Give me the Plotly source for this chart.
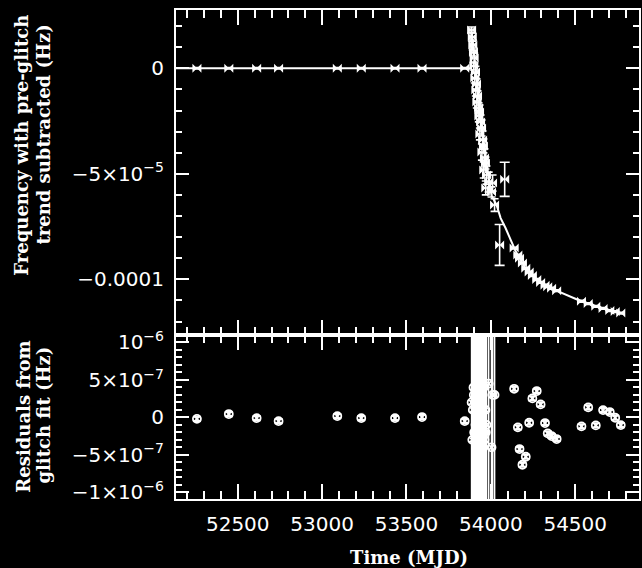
import numpy as np
import plotly.graph_objects as go

# ---------------- data ----------------
# pre-glitch timing points
pre_mjd = [52258, 52447, 52612, 52742, 53090, 53232, 53432, 53592, 53845]
pre_freq = [0, 0, 0, 0, 0, 0, 0, 0, 0]
pre_err = [3e-7, 3e-7, 3e-7, 3e-7, 3e-7, 3e-7, 3e-7, 3e-7, 3e-7]
pre_resid = [-0.02e-6, 0.044e-6, -0.01e-6, -0.05e-6, 0.017e-6, -0.01e-6, -0.01e-6, 0.004e-6, -0.05e-6]
pre_rerr = [3e-8] * 9

# dense points just after the glitch
gl_mjd = [53886, 53890, 53893, 53897, 53901, 53899, 53909, 53905, 53915, 53911,
          53921, 53917, 53927, 53933, 53929, 53939, 53945, 53935, 53951, 53956,
          53947, 53962, 53968, 53958, 53974, 53987, 53970, 54010, 54004, 54022]
gl_freq = [1.82e-5, 1.48e-5, 1.10e-5, 0.77e-5, 0.49e-5, 0.11e-5, -0.18e-5, -0.46e-5, -0.74e-5, -1.03e-5,
           -1.31e-5, -1.60e-5, -1.88e-5, -2.07e-5, -2.26e-5, -2.54e-5, -2.83e-5, -3.11e-5, -3.40e-5, -3.68e-5,
           -3.97e-5, -4.25e-5, -4.49e-5, -4.82e-5, -5.06e-5, -5.39e-5, -5.67e-5, -5.44e-5, -5.86e-5, -6.48e-5]
gl_err = [1.4e-6, 1.9e-6, 2.4e-6, 1.9e-6, 2.4e-6, 1.9e-6, 2.8e-6, 2.4e-6, 2.4e-6, 2.8e-6,
          2.4e-6, 2.8e-6, 2.4e-6, 3.3e-6, 2.8e-6, 3.3e-6, 3.8e-6, 2.8e-6, 4.3e-6, 3.3e-6,
          3.8e-6, 4.3e-6, 2.8e-6, 3.8e-6, 4.3e-6, 4.7e-6, 3.3e-6, 3.8e-6, 2.4e-6, 3.0e-6]
gl_resid = [0.2e-6, -0.3e-6, 0.1e-6, 0.4e-6, -0.2e-6, 0.3e-6, -0.1e-6, 0.2e-6, -0.4e-6, 0.1e-6,
            0.3e-6, -0.2e-6, 0.0, 0.2e-6, -0.3e-6, 0.4e-6, -0.1e-6, 0.1e-6, 0.3e-6, -0.2e-6,
            0.2e-6, -0.3e-6, 0.1e-6, 0.4e-6, -0.1e-6, 0.45e-6, -0.2e-6, 0.3e-6, -0.4e-6, 0.3e-6]

# two poorly constrained points (upper panel only)
out_mjd = [54052, 54082]
out_freq = [-8.37e-5, -5.26e-5]
out_err = [9.7e-6, 8.1e-6]

# later post-glitch points
post_mjd = [54138, 54160, 54170, 54187, 54207, 54227, 54246, 54272, 54295, 54321,
            54337, 54360, 54390, 54537, 54577, 54622, 54665, 54705, 54737, 54770]
post_freq = [-8.52e-5, -8.85e-5, -9.00e-5, -9.23e-5, -9.48e-5, -9.66e-5, -9.82e-5, -10.01e-5, -10.15e-5, -10.28e-5,
             -10.35e-5, -10.43e-5, -10.54e-5, -11.04e-5, -11.15e-5, -11.28e-5, -11.38e-5, -11.48e-5, -11.53e-5, -11.60e-5]
post_err = [4e-7] * 20
post_resid = [0.381e-6, -0.133e-6, -0.423e-6, -0.632e-6, -0.525e-6, -0.072e-6, 0.253e-6, 0.351e-6, 0.173e-6, -0.076e-6,
              -0.213e-6, -0.249e-6, -0.289e-6, -0.12e-6, 0.133e-6, -0.107e-6, 0.097e-6, 0.071e-6, -0.005e-6, -0.103e-6]
post_rerr = [3e-8] * 20

# glitch model curve
model_mjd = [52100, 53883, 53884, 53904, 53922, 53940, 53957, 53975, 53993, 54005,
             54034, 54058, 54087, 54146, 54205, 54282, 54382, 54518, 54636, 54775]
model_freq = [0, 0, 1.90e-5, 0.39e-5, -1.03e-5, -2.20e-5, -3.40e-5, -4.58e-5, -5.53e-5, -6.05e-5,
              -6.48e-5, -7.10e-5, -7.57e-5, -8.66e-5, -9.46e-5, -10.08e-5, -10.51e-5, -10.98e-5, -11.31e-5, -11.61e-5]

# tick labels
top_tickvals = [0, -5e-5, -1e-4]
top_ticktext = ["0", "−5×10<sup>−5</sup>", "−0.0001"]
bot_tickvals = [1e-6, 5e-7, 0, -5e-7, -1e-6]
bot_ticktext = ["10<sup>−6</sup>", "5×10<sup>−7</sup>", "0", "−5×10<sup>−7</sup>", "−1×10<sup>−6</sup>"]
top_minor = list(np.round(np.arange(-12e-5, 3e-5, 1e-5), 10))
bot_minor = list(np.round(np.arange(-1e-6, 1.1e-6, 1e-7), 12))

# ---------------- figure ----------------
W = "white"
fig = go.Figure()

marker_top = dict(symbol="bowtie", size=9, color=W)
marker_bot = dict(symbol="circle-x-open", size=8, color=W, line=dict(color=W, width=1.8))
eb = lambda arr, w=4: dict(type="data", array=arr, visible=True, color=W, thickness=1.6, width=w)

fig.add_trace(go.Scatter(x=model_mjd, y=model_freq, mode="lines",
                         line=dict(color=W, width=2), xaxis="x", yaxis="y", showlegend=False))
fig.add_trace(go.Scatter(x=pre_mjd + gl_mjd + post_mjd,
                         y=pre_freq + gl_freq + post_freq,
                         error_y=eb(pre_err + gl_err + post_err),
                         mode="markers", marker=marker_top, xaxis="x", yaxis="y", showlegend=False))
fig.add_trace(go.Scatter(x=out_mjd, y=out_freq, error_y=eb(out_err, 5),
                         mode="markers", marker=marker_top, xaxis="x", yaxis="y", showlegend=False))
fig.add_trace(go.Scatter(x=pre_mjd + gl_mjd + post_mjd,
                         y=pre_resid + gl_resid + post_resid,
                         error_y=eb(pre_rerr + gl_err + post_rerr),
                         mode="markers", marker=marker_bot, xaxis="x2", yaxis="y2", showlegend=False))

tickfont = dict(family="DejaVu Sans", size=20, color=W)
common = dict(showline=True, linecolor=W, linewidth=2, showgrid=False, zeroline=False,
              ticks="inside", tickcolor=W, tickwidth=2, mirror="ticks", tickfont=tickfont)

xr = [52134, 54878]
split = (499 - 335) / 489

fig.update_layout(
    width=642, height=568,
    paper_bgcolor="black", plot_bgcolor="black",
    margin=dict(l=176, r=1, t=10, b=69),
    xaxis=dict(domain=[0, 1], anchor="y", range=xr, showticklabels=False,
               tickmode="linear", tick0=0, dtick=500, ticklen=15,
               minor=dict(tickmode="linear", tick0=0, dtick=100, ticklen=8, tickcolor=W, tickwidth=2, ticks="inside"),
               **common),
    yaxis=dict(domain=[split, 1], anchor="x", range=[-1.264e-4, 2.763e-5],
               tickmode="array", tickvals=top_tickvals, ticktext=top_ticktext, ticklen=13,
               ticklabelstandoff=6,
               minor=dict(tickmode="array", tickvals=top_minor, ticklen=6, tickcolor=W, tickwidth=2, ticks="inside"),
               **common),
    xaxis2=dict(domain=[0, 1], anchor="y2", range=xr, matches="x", tickformat="d",
                tickmode="linear", tick0=0, dtick=500, ticklen=15, ticklabelstandoff=6,
                minor=dict(tickmode="linear", tick0=0, dtick=100, ticklen=8, tickcolor=W, tickwidth=2, ticks="inside"),
                **common),
    yaxis2=dict(domain=[0, split], anchor="x2", range=[-1.089e-6, 1.099e-6],
                tickmode="array", tickvals=bot_tickvals, ticktext=bot_ticktext, ticklen=13,
                ticklabelstandoff=6,
                minor=dict(tickmode="array", tickvals=bot_minor, ticklen=6, tickcolor=W, tickwidth=2, ticks="inside"),
                **common),
)

tfont = dict(family="DejaVu Serif", size=18, color=W, weight="bold")
def px(xp):
    return (xp - 176) / 465
def py(yp):
    return (499 - yp) / 489

ann = [
    ("Frequency with pre-glitch", 21, 145, -90),
    ("trend subtracted (Hz)", 42, 135, -90),
    ("Residuals from", 22, 417, -90),
    ("glitch fit (Hz)", 42, 415, -90),
    ("Time (MJD)", 410, 557, 0),
]
for txt, xp, yp, ang in ann:
    fig.add_annotation(text="<b>%s</b>" % txt, x=px(xp), y=py(yp), xref="paper", yref="paper",
                       xanchor="center", yanchor="middle", textangle=ang, showarrow=False, font=tfont)

fig.write_html("out.html")
